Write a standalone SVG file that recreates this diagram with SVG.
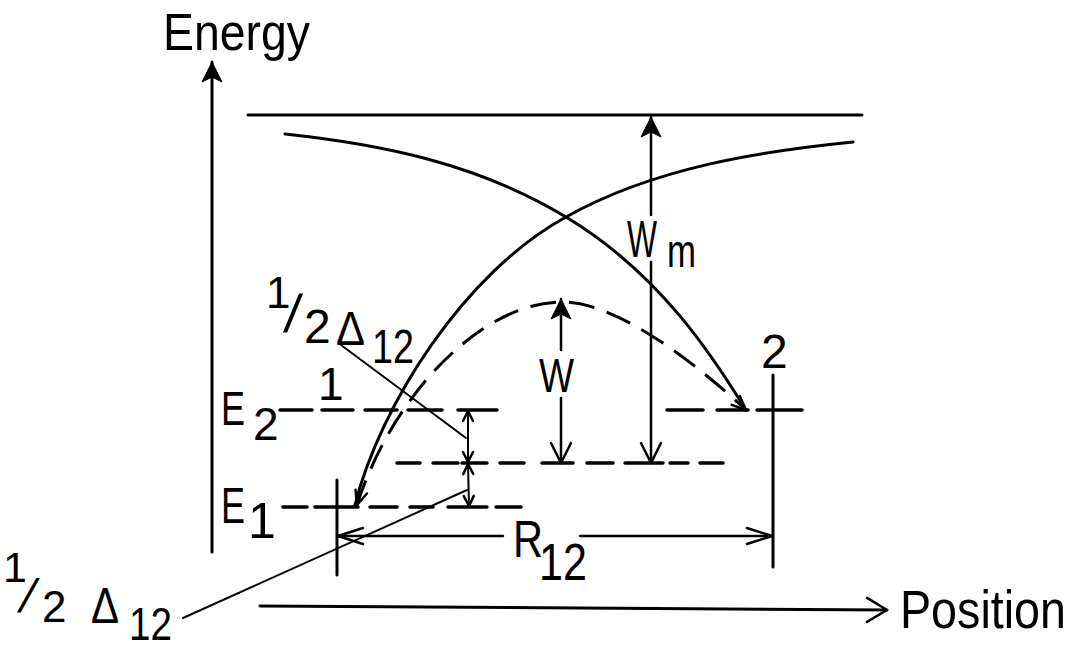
<svg xmlns="http://www.w3.org/2000/svg" width="1088" height="650" viewBox="0 0 1088 650">
<style>
.ln{fill:none;stroke:#000;stroke-width:3;stroke-linecap:round}
.sh{fill:none;stroke:#000;stroke-width:2.5;stroke-linecap:round}
.thin{fill:none;stroke:#000;stroke-width:2;stroke-linecap:round}
.lvl{fill:none;stroke:#000;stroke-width:3.5;stroke-linecap:round}
.dcurve{fill:none;stroke:#000;stroke-width:3;stroke-dasharray:26 13}
.mk{fill:none;stroke:#000;stroke-width:2.5;stroke-linecap:round;stroke-linejoin:round}
.mf{fill:#000;stroke:#000;stroke-width:1;stroke-linejoin:round}
text{font-family:"Liberation Sans",Arial,sans-serif;fill:#000}
</style>
<defs>
<marker id="fh" viewBox="-30 -15 32 30" markerWidth="32" markerHeight="30" refX="0" refY="0" markerUnits="userSpaceOnUse" orient="auto" overflow="visible"><path class="mf" d="M0,0 L-20,-10 L-15,0 L-20,10 Z"/></marker>
<marker id="ov" viewBox="-30 -15 32 30" markerWidth="32" markerHeight="30" refX="0" refY="0" markerUnits="userSpaceOnUse" orient="auto" overflow="visible"><path class="mk" d="M-20,-10 L0,0 L-20,10"/></marker>
<marker id="ovR" viewBox="-30 -15 32 30" markerWidth="32" markerHeight="30" refX="0" refY="0" markerUnits="userSpaceOnUse" orient="auto" overflow="visible"><path class="mk" d="M-25,-8 L0,0 L-25,8"/></marker>
<marker id="ovP" viewBox="-30 -15 32 30" markerWidth="32" markerHeight="30" refX="0" refY="0" markerUnits="userSpaceOnUse" orient="auto" overflow="visible"><path class="mk" d="M-20,-12 L0,0 L-20,12"/></marker>
<marker id="ovS" viewBox="-30 -15 32 30" markerWidth="32" markerHeight="30" refX="0" refY="0" markerUnits="userSpaceOnUse" orient="auto-start-reverse" overflow="visible"><path class="mk" d="M-10,-5 L0,0 L-10,5"/></marker>
<marker id="ovD" viewBox="-30 -15 32 30" markerWidth="32" markerHeight="30" refX="0" refY="0" markerUnits="userSpaceOnUse" orient="auto-start-reverse" overflow="visible"><path class="mk" d="M-14,-6 L0,0 L-14,6"/></marker>
</defs>
<rect width="1088" height="650" fill="#fff"/>

<g id="axes">
<path class="ln" d="M212,552 V62" marker-end="url(#fh)"/>
<path class="ln" d="M260,606 L887,610" marker-end="url(#ovP)"/>
</g>

<g id="curves">
<path class="ln" d="M248,115 H862"/>
<path class="ln" d="M285,134 C379,144 477,163 566,217 C666,277 721,370 746,410"/>
<path class="ln" d="M355,505 C380,405 465,272 566,217 C655,167 763,151 853,142"/>
<path class="dcurve" d="M357,505 C392,395 482,302 562,302 C615,302 690,358 746,410" marker-start="url(#ovD)" marker-end="url(#ovD)"/>
</g>

<g id="levels">
<path class="lvl" d="M280,410 H312 M322,410 H353 M365,410 H397 M408,410 H442 M458,410 H497"/>
<path class="lvl" d="M667,410 H703 M717,410 H748 M757,410 H802"/>
<path class="lvl" d="M397,463 H420 M433,463 H458 M462,463 H487 M500,463 H524 M542,463 H573 M587,463 H613 M625,463 H663 M670,463 H688 M700,463 H723"/>
<path class="lvl" d="M283,507 H307 M315,507 H358 M370,507 H397 M410,507 H433 M448,507 H487 M496,507 H521"/>
<path class="ln" d="M337,480 V575"/>
<path class="ln" d="M773,375 V567"/>
</g>

<g id="connectors">
<path class="sh" d="M651,215 V117" marker-end="url(#fh)"/>
<path class="sh" d="M651,262 V463" marker-end="url(#ov)"/>
<path class="sh" d="M561,350 V299" marker-end="url(#fh)"/>
<path class="sh" d="M561,398 V463" marker-end="url(#ov)"/>
<path class="thin" d="M468,411 L468,462" marker-start="url(#ovS)" marker-end="url(#ovS)"/>
<path class="thin" d="M468,464 L469,506" marker-start="url(#ovS)" marker-end="url(#ovS)"/>
<path class="sh" d="M503,536 H338" marker-end="url(#ovR)"/>
<path class="sh" d="M580,536 H772" marker-end="url(#ovR)"/>
<path class="thin" d="M341,345 L466,438"/>
<path class="thin" d="M183,618 L467,490"/>
</g>

<g id="labels">
<text x="163" y="50" font-size="52" textLength="147" lengthAdjust="spacingAndGlyphs">Energy</text>
<text x="900" y="628" font-size="53" textLength="166" lengthAdjust="spacingAndGlyphs">Position</text>
<g id="label-E2"><text x="221" y="425" font-size="49" textLength="24" lengthAdjust="spacingAndGlyphs">E</text><text x="253" y="440" font-size="46">2</text></g>
<g id="label-E1"><text x="221" y="523" font-size="50" textLength="24" lengthAdjust="spacingAndGlyphs">E</text><text x="248" y="538" font-size="50">1</text></g>
<text x="318" y="400" font-size="46">1</text>
<text x="761" y="368" font-size="48">2</text>
<g id="label-Wm"><text x="627" y="257" font-size="51" textLength="30" lengthAdjust="spacingAndGlyphs">W</text><text x="667" y="267" font-size="46" textLength="29" lengthAdjust="spacingAndGlyphs">m</text></g>
<text x="539" y="392" font-size="48" textLength="35" lengthAdjust="spacingAndGlyphs">W</text>
<g id="label-R12"><text x="513" y="557" font-size="51" textLength="30" lengthAdjust="spacingAndGlyphs">R</text><text x="539" y="580" font-size="51" textLength="48" lengthAdjust="spacingAndGlyphs">12</text></g>
<g id="label-half-delta-upper">
<text x="266" y="308" font-size="44">1</text>
<text x="0" y="0" font-size="53" transform="translate(283,332) skewX(-8)">/</text>
<text x="304" y="343" font-size="48">2</text>
<text x="336" y="345" font-size="49" textLength="29" lengthAdjust="spacingAndGlyphs">Δ</text>
<text x="372" y="363" font-size="49" textLength="42" lengthAdjust="spacingAndGlyphs">12</text>
</g>
<g id="label-half-delta-lower">
<text x="3" y="582" font-size="43">1</text>
<text x="0" y="0" font-size="47" transform="translate(17,612) skewX(-16)">/</text>
<text x="42" y="622" font-size="44">2</text>
<text x="91" y="623" font-size="50" textLength="28" lengthAdjust="spacingAndGlyphs">Δ</text>
<text x="129" y="640" font-size="46" textLength="43" lengthAdjust="spacingAndGlyphs">12</text>
</g>
</g>
</svg>
